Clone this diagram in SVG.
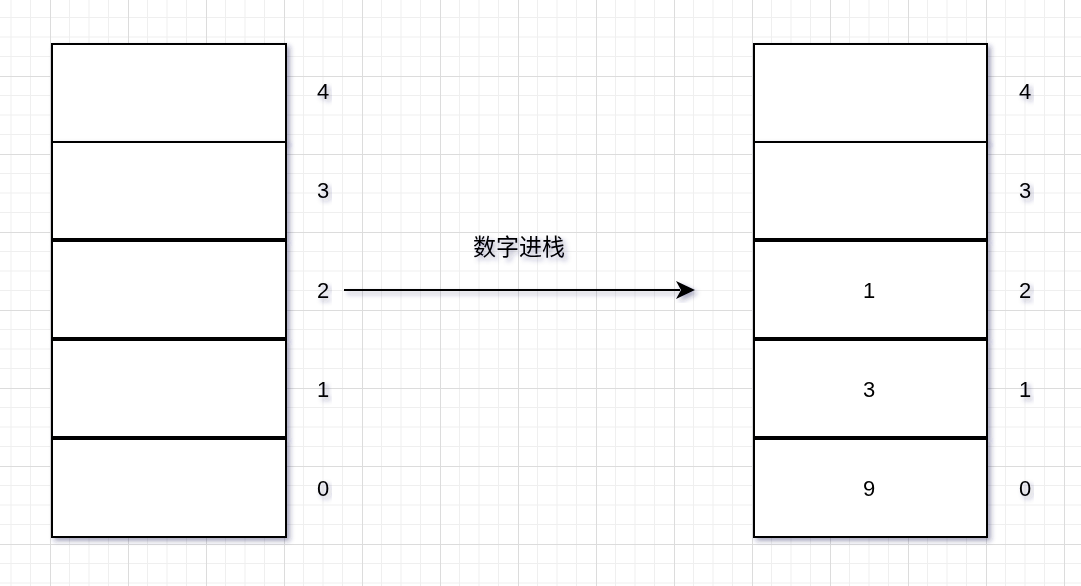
<svg xmlns="http://www.w3.org/2000/svg" width="1081" height="586" viewBox="0 0 1081 586">
<style>
.cell{fill:#ffffff;stroke:#000000;stroke-width:2}
.lbl{font-family:"Liberation Sans",Arial,sans-serif;font-size:22px;fill:#000000;text-anchor:middle;dominant-baseline:central}
.zh{font-family:"Liberation Sans","Noto Sans CJK SC",sans-serif;font-size:23px;fill:#000000;text-anchor:middle;dominant-baseline:central}
.sh{filter:url(#shadow)}
</style>
<defs>
<filter id="shadow" x="-20%" y="-20%" width="140%" height="140%">
<feDropShadow dx="3" dy="3" stdDeviation="2.5" flood-color="#2a2a60" flood-opacity="0.4"/>
</filter>
<pattern id="grid" patternUnits="userSpaceOnUse" x="50" y="-2" width="78" height="78">
<rect width="78" height="78" fill="#ffffff"/>
<path d="M19.5 0V78M39 0V78M58.5 0V78M0 19.5H78M0 39H78M0 58.5H78" stroke="#efefef" stroke-width="1" fill="none"/>
<path d="M0.5 0V78M0 0.5H78" stroke="#dcdcdc" stroke-width="1" fill="none"/>
</pattern>
</defs>
<rect width="1081" height="586" fill="url(#grid)"/>

<g id="left-cell-4" class="sh"><rect class="cell" x="52" y="44" width="234" height="98"/></g>
<g id="left-cell-3" class="sh"><rect class="cell" x="52" y="142" width="234" height="97"/></g>
<g id="left-cell-2" class="sh"><rect class="cell" x="52" y="241" width="234" height="97"/></g>
<g id="left-cell-1" class="sh"><rect class="cell" x="52" y="340" width="234" height="97"/></g>
<g id="left-cell-0" class="sh"><rect class="cell" x="52" y="439" width="234" height="98"/></g>

<g id="right-cell-4" class="sh"><rect class="cell" x="754" y="44" width="233" height="98"/></g>
<g id="right-cell-3" class="sh"><rect class="cell" x="754" y="142" width="233" height="97"/></g>
<g id="right-cell-2" class="sh"><rect class="cell" x="754" y="241" width="233" height="97"/><text class="lbl" x="869" y="290">1</text></g>
<g id="right-cell-1" class="sh"><rect class="cell" x="754" y="340" width="233" height="97"/><text class="lbl" x="869" y="389">3</text></g>
<g id="right-cell-0" class="sh"><rect class="cell" x="754" y="439" width="233" height="98"/><text class="lbl" x="869" y="488">9</text></g>

<g id="left-index-labels" class="sh">
<text class="lbl" x="323" y="91">4</text>
<text class="lbl" x="323" y="190">3</text>
<text class="lbl" x="323" y="290">2</text>
<text class="lbl" x="323" y="389">1</text>
<text class="lbl" x="323" y="488">0</text>
</g>
<g id="right-index-labels" class="sh">
<text class="lbl" x="1025" y="91">4</text>
<text class="lbl" x="1025" y="190">3</text>
<text class="lbl" x="1025" y="290">2</text>
<text class="lbl" x="1025" y="389">1</text>
<text class="lbl" x="1025" y="488">0</text>
</g>

<g id="connectors" class="sh">
<line x1="344" y1="290" x2="680" y2="290" stroke="#000" stroke-width="2"/>
<path d="M695 290L676 281L681 290L676 299Z" fill="#000"/>
</g>
<g id="edge-label" class="sh"><text class="zh" x="519" y="247">数字进栈</text></g>
</svg>
